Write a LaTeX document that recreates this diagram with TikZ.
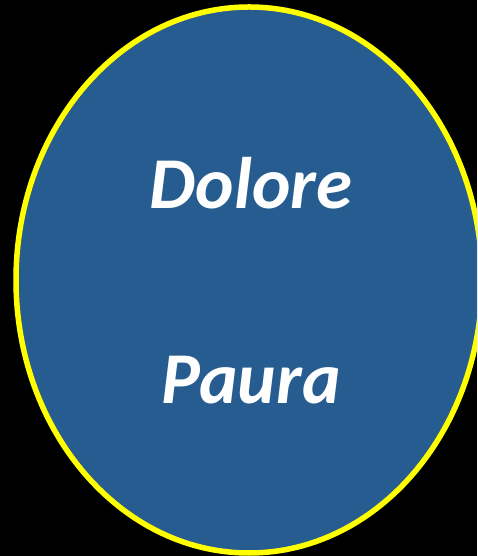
\documentclass[tikz,border=0pt]{standalone}
\usepackage{fontspec}
\setmainfont{Carlito}
\usetikzlibrary{shapes.geometric,positioning}

\definecolor{bubbleblue}{RGB}{38,92,143}
\definecolor{rimyellow}{RGB}{255,255,0}

\begin{document}
\begin{tikzpicture}[
    x=1pt, y=1pt,
    bubble/.style={ellipse, draw=rimyellow, line width=5.5pt, fill=bubbleblue,
                   minimum width=466pt, minimum height=546pt, inner sep=0pt},
    word/.style={text=white, font=\fontsize{73}{78}\selectfont\bfseries\itshape,
                 inner sep=0pt}]
  \clip (0,0) rectangle (477,556);
  \fill[black] (0,0) rectangle (477,556);
  \node[bubble] (circle) at (249,276) {};
  \node[word] (dolore) at (251,373) {Dolore};
  \node[word] (paura) at (251,176) {Paura};
\end{tikzpicture}
\end{document}
